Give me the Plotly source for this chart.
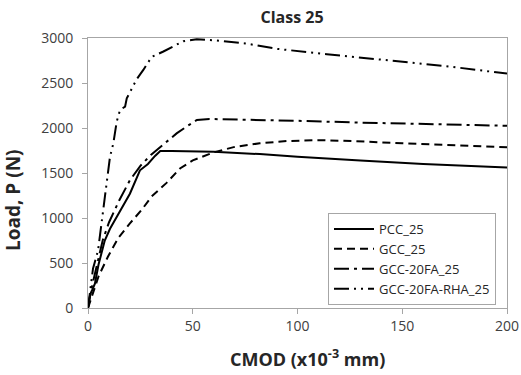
import plotly.graph_objects as go

# Data (CMOD in x10^-3 mm, load in N)
pcc_x = [0, 1, 2, 3.3, 5, 8, 10.5, 13.7, 17, 20, 24.8, 28.6, 32, 34.5, 40, 60, 82, 100, 130, 160, 200]
pcc_y = [0, 150, 200, 270, 480, 750, 880, 1010, 1150, 1270, 1530, 1600, 1690, 1745, 1745, 1735, 1710, 1680, 1640, 1600, 1560]

gcc_x = [0, 2, 5, 9.5, 14.5, 20, 25.6, 30.4, 37.5, 43.9, 50, 60, 70, 82, 95, 110, 126, 150, 175, 200]
gcc_y = [0, 150, 350, 570, 780, 940, 1090, 1240, 1390, 1550, 1640, 1730, 1790, 1830, 1855, 1865, 1855, 1830, 1810, 1785]

fa_x = [0, 1.5, 4, 7, 10, 15, 20, 25, 30, 36.8, 42.3, 47, 52, 58, 70, 82, 100, 130, 160, 200]
fa_y = [0, 200, 450, 750, 950, 1200, 1420, 1580, 1700, 1830, 1940, 2015, 2090, 2100, 2095, 2090, 2080, 2060, 2045, 2025]

rha_x = [0, 1, 2.4, 4.8, 6.5, 8.1, 10.5, 12.1, 13.7, 15.3, 17.7, 18.5, 20.8, 23.2, 26.4, 30.4, 36, 40, 45.5, 51.9, 60, 75, 90, 114, 140, 170, 200]
rha_y = [0, 200, 440, 640, 960, 1240, 1680, 1830, 2070, 2200, 2237, 2330, 2440, 2540, 2645, 2790, 2850, 2900, 2965, 2985, 2975, 2940, 2880, 2820, 2760, 2690, 2605]

x_ticks = [0, 50, 100, 150, 200]
y_ticks = [0, 500, 1000, 1500, 2000, 2500, 3000]

series = [
    ("PCC_25", pcc_x, pcc_y, "solid"),
    ("GCC_25", gcc_x, gcc_y, "8px,5px"),
    ("GCC-20FA_25", fa_x, fa_y, "15px,5px,3px,5px"),
    ("GCC-20FA-RHA_25", rha_x, rha_y, "15px,5px,2px,5px,2px,5px"),
]

fig = go.Figure()
for name, xs, ys, dash in series:
    fig.add_trace(go.Scatter(
        x=xs, y=ys, mode="lines", name=name,
        line=dict(color="black", width=2, dash=dash),
    ))

font_family = "Open Sans, Liberation Sans, sans-serif"
L, R, T, B = 88, 14, 38, 67
W, H = 521, 375

fig.update_layout(
    width=W, height=H,
    margin=dict(l=L, r=R, t=T, b=B, autoexpand=False),
    paper_bgcolor="white", plot_bgcolor="white",
    font=dict(family=font_family, color="#404040", size=13),
    title=dict(text="<b>Class 25</b>", x=292 / W, xanchor="center",
               y=1 - 17 / H, yanchor="middle",
               font=dict(size=16, color="#262626")),
    showlegend=True,
    legend=dict(x=(328 - L) / (W - L - R), y=(H - B - 213) / (H - T - B),
                xanchor="left", yanchor="top",
                bgcolor="white", bordercolor="#a6a6a6", borderwidth=1,
                font=dict(size=13, color="#262626"),
                tracegroupgap=0, itemwidth=40),
    annotations=[
        dict(text="<b>CMOD (x10<sup>-3</sup> mm)</b>", xref="paper", yref="paper",
             x=(307 - L) / (W - L - R), y=-(358 - (H - B)) / (H - T - B),
             xanchor="center", yanchor="middle", showarrow=False,
             font=dict(size=18, color="#262626")),
        dict(text="<b>Load, P (N)</b>", xref="paper", yref="paper",
             x=-(L - 13) / (W - L - R), y=(H - B - 200) / (H - T - B),
             xanchor="center", yanchor="middle", textangle=-90, showarrow=False,
             font=dict(size=19, color="#262626")),
    ],
)

fig.update_xaxes(
    range=[0, 200], tickvals=x_ticks, automargin=False,
    showgrid=False, zeroline=False,
    showline=True, linecolor="#a6a6a6", linewidth=1, mirror=True,
    ticks="outside", ticklen=5, tickcolor="#a6a6a6",
    tickfont=dict(size=14, color="#404040"),
)
fig.update_yaxes(
    range=[0, 3000], tickvals=y_ticks, automargin=False,
    showgrid=False, zeroline=False,
    showline=True, linecolor="#a6a6a6", linewidth=1, mirror=True,
    ticks="outside", ticklen=5, tickcolor="#a6a6a6", ticklabelstandoff=6,
    tickfont=dict(size=14, color="#404040"),
)

fig.write_html(
    "out.html",
    config={"displayModeBar": False},
    post_script="document.body.style.margin='0';document.body.style.overflow='hidden';",
)
